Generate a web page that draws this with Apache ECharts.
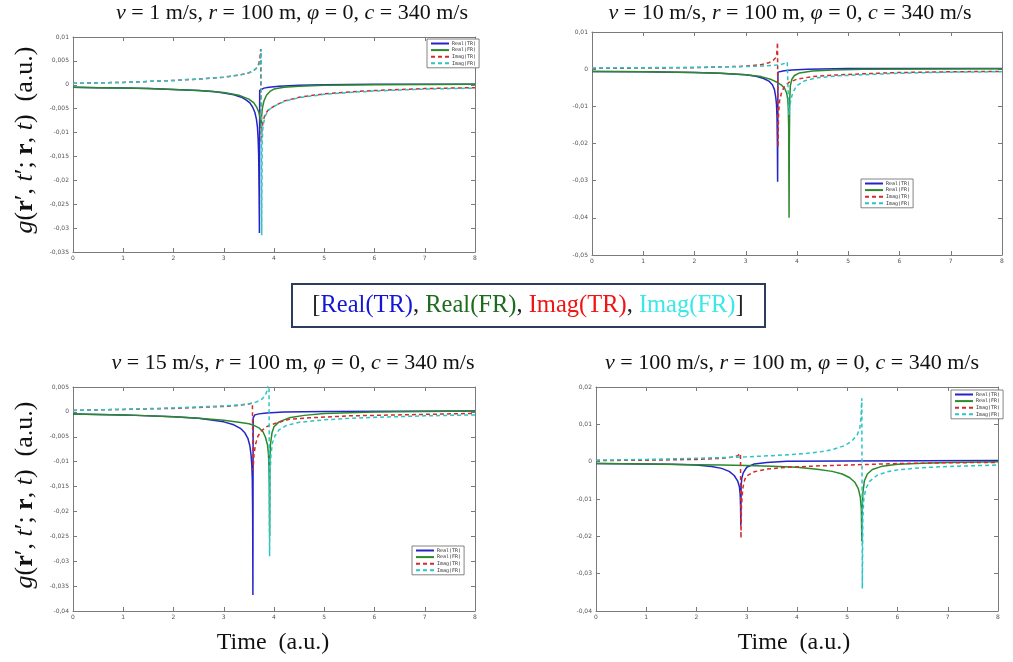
<!DOCTYPE html>
<html>
<head>
<meta charset="utf-8">
<script src="https://cdn.jsdelivr.net/npm/echarts@6/dist/echarts.min.js"></script>
<style>html,body{margin:0;padding:0;background:#fff;}#c{width:1013px;height:662px;}</style>
</head>
<body>
<div id="c"></div>
<script>
// ---------- data ----------
const seriesNames = ['Real(TR)', 'Real(FR)', 'Imag(TR)', 'Imag(FR)'];
const xTicks = [0, 1, 2, 3, 4, 5, 6, 7, 8];
const panelTitles = [
  '{i|v} = 1 m/s, {i|r} = 100 m, {i|φ} = 0, {i|c} = 340 m/s',
  '{i|v} = 10 m/s, {i|r} = 100 m, {i|φ} = 0, {i|c} = 340 m/s',
  '{i|v} = 15 m/s, {i|r} = 100 m, {i|φ} = 0, {i|c} = 340 m/s',
  '{i|v} = 100 m/s, {i|r} = 100 m, {i|φ} = 0, {i|c} = 340 m/s'
];
const yRanges = [[-0.035, 0.01, 0.005], [-0.05, 0.01, 0.01], [-0.04, 0.005, 0.005], [-0.04, 0.02, 0.01]];

// panel 1: v = 1
const p1RealTR = [[0,-0.0005],[0.5,-0.0006],[1,-0.0007],[1.5,-0.0008],[2,-0.001],[2.5,-0.0012],[2.8,-0.0014],[3,-0.0017],[3.2,-0.0021],[3.35,-0.0026],[3.45,-0.0032],[3.52,-0.0038],[3.58,-0.0048],[3.62,-0.0058],[3.65,-0.0072],[3.67,-0.0088],[3.685,-0.0115],[3.695,-0.015],[3.703,-0.022],[3.71,-0.031],[3.715,-0.0012],[3.74,-0.0009],[3.8,-0.0007],[3.9,-0.0005],[4.1,-0.0003],[4.5,-0.0001],[5,0],[6,0.0001],[8,0.0001]];
const p1RealFR = [[0,-0.0005],[0.5,-0.0006],[1,-0.0007],[1.5,-0.0008],[2,-0.001],[2.5,-0.0012],[3,-0.0016],[3.3,-0.0022],[3.5,-0.003],[3.6,-0.0038],[3.66,-0.0048],[3.7,-0.0058],[3.72,-0.0068],[3.735,-0.0082],[3.745,-0.0092],[3.752,-0.0068],[3.77,-0.0048],[3.8,-0.0034],[3.85,-0.0022],[3.92,-0.0014],[4,-0.0009],[4.2,-0.0005],[4.5,-0.0003],[5,-0.0001],[6,0],[8,0.0001]];
const p1ImagTR = [[0,0.0003],[0.5,0.0004],[1,0.0005],[1.5,0.0007],[2,0.0009],[2.5,0.0012],[3,0.0016],[3.3,0.002],[3.5,0.0025],[3.6,0.003],[3.66,0.0036],[3.7,0.0045],[3.72,0.0056],[3.735,0.0075],[3.745,-0.012],[3.76,-0.0095],[3.78,-0.0078],[3.82,-0.0062],[3.9,-0.0051],[4,-0.0045],[4.2,-0.0034],[4.5,-0.0026],[5,-0.0019],[5.5,-0.0015],[6,-0.0012],[7,-0.0008],[8,-0.0006]];
const p1ImagFR = [[0,0.0003],[0.5,0.0004],[1,0.0005],[1.5,0.0007],[2,0.0009],[2.5,0.0012],[3,0.0016],[3.3,0.002],[3.5,0.0025],[3.6,0.003],[3.67,0.0036],[3.71,0.0044],[3.73,0.0055],[3.745,0.0075],[3.755,-0.0315],[3.765,-0.012],[3.78,-0.0088],[3.82,-0.0066],[3.9,-0.0052],[4,-0.0045],[4.2,-0.0035],[4.5,-0.0027],[5,-0.002],[5.5,-0.0016],[6,-0.0013],[7,-0.0009],[8,-0.0007]];

// panel 2: v = 10
const p2RealTR = [[0,-0.0006],[1,-0.0007],[2,-0.0009],[2.5,-0.0011],[3,-0.0015],[3.2,-0.0019],[3.35,-0.0025],[3.45,-0.0032],[3.52,-0.0042],[3.56,-0.0055],[3.585,-0.0075],[3.6,-0.0095],[3.61,-0.013],[3.617,-0.02],[3.622,-0.0303],[3.628,-0.0008],[3.66,-0.0006],[3.75,-0.0004],[3.9,-0.0002],[4.2,0],[5,0.0002],[8,0.0002]];
const p2RealFR = [[0,-0.0006],[1,-0.0007],[2,-0.0009],[2.5,-0.0011],[3,-0.0015],[3.3,-0.002],[3.5,-0.0028],[3.62,-0.0036],[3.7,-0.0043],[3.76,-0.0052],[3.8,-0.0065],[3.82,-0.0082],[3.83,-0.0105],[3.838,-0.016],[3.845,-0.04],[3.85,-0.021],[3.858,-0.0085],[3.87,-0.0045],[3.9,-0.0027],[3.95,-0.0017],[4.05,-0.001],[4.3,-0.0005],[4.7,-0.0002],[5.3,0],[8,0.0001]];
const p2ImagTR = [[0,0.0002],[1,0.0003],[2,0.0004],[2.5,0.0006],[3,0.0008],[3.3,0.0012],[3.45,0.0017],[3.53,0.0023],[3.58,0.003],[3.605,0.0042],[3.62,0.0072],[3.63,-0.021],[3.64,-0.012],[3.66,-0.0085],[3.7,-0.0062],[3.76,-0.0045],[3.85,-0.0035],[4,-0.0027],[4.3,-0.002],[4.7,-0.0016],[5.2,-0.0013],[6,-0.0009],[7,-0.0007],[8,-0.0006]];
const p2ImagFR = [[0,0.0003],[1,0.0004],[2,0.0005],[3,0.0007],[3.4,0.0009],[3.6,0.0011],[3.7,0.0013],[3.77,0.0016],[3.81,0.0019],[3.83,0.0018],[3.842,-0.0123],[3.855,-0.0105],[3.88,-0.0082],[3.92,-0.0062],[4,-0.0044],[4.15,-0.0031],[4.4,-0.0023],[4.8,-0.0018],[5.3,-0.0015],[6,-0.0011],[7,-0.0008],[8,-0.0007]];

// panel 3: v = 15
const p3RealTR = [[0,-0.0004],[1,-0.0006],[2,-0.001],[2.5,-0.0013],[3,-0.002],[3.2,-0.0026],[3.33,-0.0033],[3.42,-0.0042],[3.48,-0.0053],[3.52,-0.0068],[3.545,-0.0088],[3.56,-0.011],[3.568,-0.0135],[3.575,-0.02],[3.58,-0.0368],[3.585,-0.0012],[3.62,-0.0006],[3.7,-0.0004],[3.85,-0.0002],[4.2,0],[5,0.0001],[8,0.0002]];
const p3RealFR = [[0,-0.0004],[1,-0.0006],[2,-0.001],[2.5,-0.0013],[3,-0.0017],[3.3,-0.0021],[3.5,-0.0024],[3.6,-0.0027],[3.7,-0.0032],[3.78,-0.004],[3.83,-0.0051],[3.87,-0.0066],[3.89,-0.0085],[3.9,-0.011],[3.907,-0.015],[3.913,-0.025],[3.918,-0.0095],[3.93,-0.0065],[3.96,-0.0042],[4,-0.003],[4.1,-0.002],[4.3,-0.0012],[4.6,-0.0007],[5,-0.0003],[6,0],[8,0.0002]];
const p3ImagTR = [[0,0.0003],[1,0.0005],[2,0.0007],[2.5,0.0009],[3,0.0011],[3.3,0.0013],[3.5,0.0016],[3.57,0.0018],[3.585,-0.0117],[3.6,-0.0088],[3.63,-0.0066],[3.68,-0.0049],[3.75,-0.0038],[3.85,-0.003],[4,-0.0024],[4.3,-0.0015],[4.7,-0.0012],[5.5,-0.0008],[6,-0.0007],[7,-0.0005],[8,-0.0003]];
const p3ImagFR = [[0,0.0003],[1,0.0005],[2,0.0008],[2.5,0.001],[3,0.0012],[3.3,0.0014],[3.5,0.0016],[3.65,0.002],[3.75,0.0025],[3.82,0.0032],[3.86,0.0042],[3.885,0.0058],[3.9,0.009],[3.912,-0.029],[3.925,-0.012],[3.94,-0.0085],[3.97,-0.0062],[4.02,-0.0048],[4.1,-0.0036],[4.25,-0.0027],[4.5,-0.0021],[5,-0.0016],[5.5,-0.0013],[6,-0.0011],[7,-0.0008],[8,-0.0006]];

// panel 4: v = 100
const p4RealTR = [[0,-0.0005],[1,-0.0006],[1.5,-0.0007],[2,-0.0009],[2.3,-0.0013],[2.5,-0.0018],[2.65,-0.0026],[2.75,-0.0037],[2.82,-0.0052],[2.855,-0.0068],[2.87,-0.009],[2.877,-0.012],[2.882,-0.017],[2.888,-0.0065],[2.9,-0.0045],[2.93,-0.003],[3,-0.0015],[3.15,-0.0006],[3.4,-0.0002],[3.8,0.0001],[5,0.0002],[8,0.0003]];
const p4RealFR = [[0,-0.0005],[1,-0.0006],[2,-0.0008],[2.5,-0.0009],[3,-0.001],[3.5,-0.0012],[4,-0.0015],[4.4,-0.002],[4.7,-0.0026],[4.9,-0.0033],[5.05,-0.0043],[5.15,-0.0055],[5.22,-0.0072],[5.26,-0.0095],[5.28,-0.0125],[5.29,-0.0214],[5.3,-0.0125],[5.31,-0.0085],[5.34,-0.0052],[5.4,-0.0033],[5.5,-0.0021],[5.7,-0.0012],[6,-0.0007],[6.5,-0.0004],[7,-0.0002],[8,0]];
const p4ImagTR = [[0,0.0003],[1,0.0004],[2,0.0006],[2.5,0.0009],[2.7,0.0012],[2.82,0.0016],[2.875,0.0022],[2.885,-0.0205],[2.895,-0.012],[2.92,-0.0072],[2.96,-0.0048],[3,-0.0038],[3.15,-0.0027],[3.4,-0.002],[3.8,-0.0015],[4.5,-0.0011],[5,-0.0009],[5.5,-0.0007],[6,-0.0005],[7,-0.0003],[8,-0.0002]];
const p4ImagFR = [[0,0.0004],[1,0.0006],[2,0.0009],[2.5,0.0011],[3,0.0013],[3.5,0.0016],[4,0.002],[4.4,0.0025],[4.7,0.0032],[4.95,0.0043],[5.1,0.0056],[5.2,0.0072],[5.25,0.009],[5.275,0.012],[5.29,0.017],[5.3,-0.034],[5.31,-0.015],[5.33,-0.0098],[5.37,-0.0072],[5.45,-0.0052],[5.6,-0.0036],[5.8,-0.0027],[6,-0.0022],[6.5,-0.0016],[7,-0.0013],[8,-0.0009]];

const panelData = [
  [p1RealTR, p1RealFR, p1ImagTR, p1ImagFR],
  [p2RealTR, p2RealFR, p2ImagTR, p2ImagFR],
  [p3RealTR, p3RealFR, p3ImagTR, p3ImagFR],
  [p4RealTR, p4RealFR, p4ImagTR, p4ImagFR]
];

// ---------- layout / styles ----------
const grids = [
  {left: 73, top: 37, width: 402, height: 215},
  {left: 592, top: 32, width: 410, height: 223},
  {left: 73, top: 387, width: 402, height: 224},
  {left: 596, top: 387, width: 402, height: 224}
];
const legendPos = [
  {left: 427, top: 39}, {left: 861, top: 179}, {left: 412, top: 546}, {left: 951, top: 390}
];
const lineColors = ['#2424c8', '#2a8a2a', '#d42a2a', '#2cc4c4'];
const dashed = [false, false, true, true];
const serif = '"Liberation Serif", "Times New Roman", serif';
const axisColor = '#7a7a7a';

function fmtY(v) {
  const r = Math.round(v * 100000) / 100000;
  return String(r).replace('.', ',');
}

const option = {
  animation: false,
  backgroundColor: '#ffffff',
  grid: grids.map(g => Object.assign({containLabel: false}, g)),
  xAxis: [],
  yAxis: [],
  legend: [],
  series: [],
  graphic: []
};

grids.forEach((g, i) => {
  const baseX = {
    type: 'value', gridIndex: i, min: xTicks[0], max: xTicks[xTicks.length - 1], interval: 1,
    axisLine: {show: true, onZero: false, lineStyle: {color: axisColor, width: 1}},
    axisTick: {show: true, inside: true, length: 4, lineStyle: {color: axisColor}},
    splitLine: {show: false}
  };
  option.xAxis.push(Object.assign({}, baseX, {
    position: 'bottom',
    axisLabel: {show: true, fontSize: 6, color: '#555', margin: 3, fontFamily: 'DejaVu Sans'}
  }));
  option.xAxis.push(Object.assign({}, baseX, {position: 'top', axisLabel: {show: false}}));
  const [ymin, ymax, yint] = yRanges[i];
  const baseY = {
    type: 'value', gridIndex: i, min: ymin, max: ymax, interval: yint,
    axisLine: {show: true, onZero: false, lineStyle: {color: axisColor, width: 1}},
    axisTick: {show: true, inside: true, length: 4, lineStyle: {color: axisColor}},
    splitLine: {show: false}
  };
  option.yAxis.push(Object.assign({}, baseY, {
    position: 'left',
    axisLabel: {show: true, fontSize: 6, color: '#555', margin: 4, fontFamily: 'DejaVu Sans', formatter: fmtY}
  }));
  option.yAxis.push(Object.assign({}, baseY, {position: 'right', axisLabel: {show: false}}));

  panelData[i].forEach((d, k) => {
    option.series.push({
      name: seriesNames[k],
      type: 'line',
      xAxisIndex: i * 2,
      yAxisIndex: i * 2,
      data: d,
      symbol: 'none',
      showSymbol: false,
      clip: true,
      lineStyle: {color: lineColors[k], width: 1.5, type: dashed[k] ? [4, 3] : 'solid'},
      itemStyle: {color: lineColors[k]},
      z: 2 + k
    });
  });

  option.legend.push({
    data: seriesNames,
    orient: 'vertical',
    left: legendPos[i].left,
    top: legendPos[i].top,
    itemWidth: 18,
    itemHeight: 5,
    itemGap: 1.6,
    padding: [2, 3, 2, 3],
    selectedMode: false,
    backgroundColor: '#fff',
    borderColor: '#666',
    borderWidth: 0.8,
    itemStyle: {opacity: 0},
    textStyle: {fontSize: 5, color: '#333', fontFamily: 'DejaVu Sans Mono', padding: [0, 0, 0, -2]}
  });
});

const titlePos = [[292, 13], [790, 13], [293, 363], [792, 363]];
panelTitles.forEach((t, i) => {
  option.graphic.push({
    type: 'text', x: titlePos[i][0], y: titlePos[i][1],
    style: {
      text: t, fontFamily: serif, fontSize: 22, fill: '#111', align: 'center', verticalAlign: 'middle',
      rich: {i: {fontFamily: serif, fontSize: 22, fontStyle: 'italic', fill: '#111'}}
    }
  });
});

// y-axis names
const yName = '{i|g}({b|r}′, {i|t}′; {b|r}, {i|t})  (a.u.)';
[[25, 140], [25, 495]].forEach(p => {
  option.graphic.push({
    type: 'text', x: p[0], y: p[1], rotation: Math.PI / 2,
    style: {
      text: yName, fontFamily: serif, fontSize: 26, fill: '#111', align: 'center', verticalAlign: 'middle',
      rich: {
        i: {fontFamily: serif, fontSize: 26, fontStyle: 'italic', fill: '#111'},
        b: {fontFamily: serif, fontSize: 26, fontWeight: 'bold', fill: '#111'}
      }
    }
  });
});

// x-axis names
[[273, 643], [794, 643]].forEach(p => {
  option.graphic.push({
    type: 'text', x: p[0], y: p[1],
    style: {text: 'Time  (a.u.)', fontFamily: serif, fontSize: 24, fill: '#111', align: 'center', verticalAlign: 'middle'}
  });
});

// central legend box
option.graphic.push({
  type: 'rect', shape: {x: 292, y: 284, width: 473, height: 43},
  style: {fill: '#fff', stroke: '#2b3d5c', lineWidth: 2}
});
option.graphic.push({
  type: 'text', x: 528, y: 306,
  style: {
    text: '{k|[}{a|Real(TR)}{k|, }{b|Real(FR)}{k|, }{c|Imag(TR)}{k|, }{d|Imag(FR)}{k|]}',
    fontFamily: serif, fontSize: 24.5, align: 'center', verticalAlign: 'middle',
    rich: {
      k: {fontFamily: serif, fontSize: 24.5, fill: '#222'},
      a: {fontFamily: serif, fontSize: 24.5, fill: '#1515d8'},
      b: {fontFamily: serif, fontSize: 24.5, fill: '#1d6b1d'},
      c: {fontFamily: serif, fontSize: 24.5, fill: '#f01414'},
      d: {fontFamily: serif, fontSize: 24.5, fill: '#3ae8e8'}
    }
  }
});

const chart = echarts.init(document.getElementById('c'));
chart.setOption(option);
</script>
</body>
</html>
